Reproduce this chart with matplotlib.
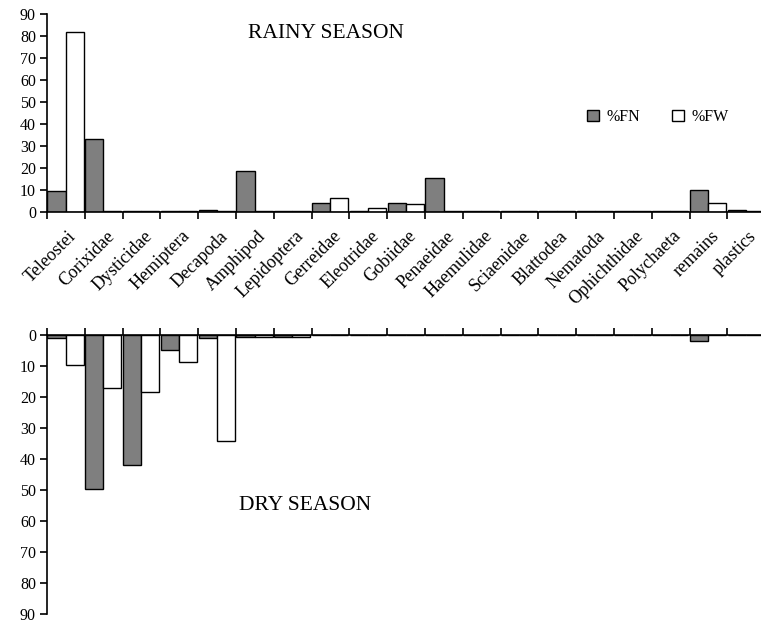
import matplotlib
matplotlib.use("Agg")
import matplotlib.pyplot as plt
import numpy as np
from matplotlib.patches import Patch

categories = ["Teleostei", "Corixidae", "Dysticidae", "Hemiptera", "Decapoda",
              "Amphipod", "Lepidoptera", "Gerreidae", "Eleotridae", "Gobiidae",
              "Penaeidae", "Haemulidae", "Sciaenidae", "Blattodea", "Nematoda",
              "Ophichthidae", "Polychaeta", "remains", "plastics"]

rainy_fn = [9.7, 33.3, 0.6, 0.6, 1.0, 18.8, 0.6, 4.4, 0.6, 4.4,
            15.7, 0.6, 0.6, 0.6, 0.6, 0.6, 0.6, 10.1, 1.0]
rainy_fw = [81.8, 0.6, 0.6, 0.6, 0.6, 0.6, 0.6, 6.6, 1.8, 3.6,
            0.6, 0.6, 0.6, 0.6, 0.6, 0.6, 0.6, 4.1, 0.6]

dry_fn = [1.0, 49.7, 41.9, 4.9, 1.0, 0.6, 0.6, 0, 0, 0,
          0, 0, 0, 0, 0, 0, 0, 2.0, 0]
dry_fw = [9.6, 17.2, 18.4, 8.7, 34.3, 0.6, 0.6, 0, 0, 0,
          0, 0, 0, 0, 0, 0, 0, 0, 0]

y_ticks = [0, 10, 20, 30, 40, 50, 60, 70, 80, 90]
legend_labels = ["%FN", "%FW"]

plt.rcParams['font.family'] = ['Liberation Serif', 'DejaVu Serif']
W, H = 761, 625
fig = plt.figure(figsize=(W / 100, H / 100), dpi=100)

gray = '#7f7f7f'
x = np.arange(len(categories))
bw = 0.48
xlim = (-0.5, -0.5 + 714 / 37.8)

def style(ax):
    ax.spines['right'].set_visible(False)
    ax.spines['left'].set_linewidth(1.2)
    ax.set_xlim(*xlim)
    ax.set_yticks(y_ticks)
    ax.tick_params(axis='y', length=5, width=1.2, labelsize=11.5, pad=3)
    bounds = np.arange(-0.5, xlim[1], 1.0)
    ax.set_xticks(bounds)
    ax.set_xticklabels([])
    ax.tick_params(axis='x', which='major', length=5, width=1.2)

# Top (rainy)
ax1 = fig.add_axes([47 / W, 1 - 212.3 / H, 1 - 47 / W, (212.3 - 14) / H])
ax1.bar(x - 0.25, rainy_fn, width=bw, color=gray, edgecolor='black', linewidth=1, zorder=2)
ax1.bar(x + 0.23, rainy_fw, width=bw, color='white', edgecolor='black', linewidth=1, zorder=2)
ax1.set_ylim(0, 90)
style(ax1)
ax1.spines['top'].set_visible(False)
ax1.spines['bottom'].set_linewidth(1.2)
ax1.set_xticks(x + 0.05, minor=True)
ax1.set_xticklabels(categories, minor=True, rotation=45, ha='right',
                    rotation_mode='anchor', fontsize=13)
ax1.tick_params(axis='x', which='minor', length=0, pad=11)

# Bottom (dry)
ax2 = fig.add_axes([47 / W, 1 - 614 / H, 1 - 47 / W, (614 - 335) / H])
ax2.bar(x - 0.25, dry_fn, width=bw, color=gray, edgecolor='black', linewidth=1, zorder=2)
ax2.bar(x + 0.23, dry_fw, width=bw, color='white', edgecolor='black', linewidth=1, zorder=2)
ax2.set_ylim(90, 0)
style(ax2)
ax2.spines['bottom'].set_visible(False)
ax2.spines['top'].set_linewidth(1.2)
ax2.xaxis.set_ticks_position('top')
ax2.tick_params(axis='x', direction='out')

fig.text(326 / W, 1 - 33 / H, "RAINY SEASON", ha='center', va='center', fontsize=15.5)
fig.text(305 / W, 1 - 505 / H, "DRY SEASON", ha='center', va='center', fontsize=15.5)

handles = [Patch(facecolor=gray, edgecolor='black', linewidth=1),
           Patch(facecolor='white', edgecolor='black', linewidth=1)]
fig.legend(handles, legend_labels, loc='center', bbox_to_anchor=(658 / W, 1 - 117 / H),
           ncol=2, frameon=False, fontsize=11.5, handlelength=0.75, handleheight=0.75,
           handletextpad=0.45, columnspacing=2.0)

fig.savefig("out.png", dpi=100)
